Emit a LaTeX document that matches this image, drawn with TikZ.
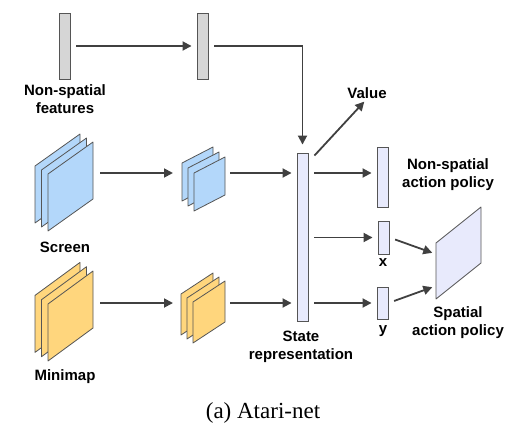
\documentclass[tikz,border=0pt]{standalone}
\usepackage{fontspec}
\setmainfont{Liberation Serif}
\newfontfamily\labelfont{Liberation Sans}
\usetikzlibrary{arrows.meta}
\definecolor{screenblue}{HTML}{B3D7FA}
\definecolor{minimaporange}{HTML}{FFD67D}
\definecolor{bargrey}{HTML}{D6D6D6}
\definecolor{statefill}{HTML}{E8EAFC}
\definecolor{edgegrey}{HTML}{555555}
\definecolor{arrowgrey}{HTML}{404040}

\begin{document}
\begin{tikzpicture}[x=1pt,y=-1pt,>={Triangle[length=9pt,width=9pt]},
  bar/.style={draw=edgegrey,line width=0.9pt,inner sep=0pt,minimum width=11pt},
  plane/.style={draw=edgegrey,line width=0.8pt,line join=round},
  flow/.style={->,draw=arrowgrey,line width=1.8pt,shorten <=6pt,shorten >=5pt},
  tag/.style={font=\labelfont\bfseries\fontsize{15}{18}\selectfont,align=center,inner sep=0pt},
  holder/.style={inner sep=0pt,outer sep=0pt,minimum height=10pt}]
  \useasboundingbox (0,0) rectangle (522,439);

  % feature bars
  \node[bar,fill=bargrey,minimum height=66pt] (nsf) at (64.5,46) {};
  \node[bar,fill=bargrey,minimum height=66pt] (nsfc) at (202.5,46) {};
  \node[bar,fill=statefill,minimum height=168pt] (state) at (302.5,237) {};
  \node[bar,fill=statefill,minimum height=60pt] (nsp) at (382.5,177) {};
  \node[bar,fill=statefill,minimum height=33pt] (xbar) at (383.5,237.5) {};
  \node[bar,fill=statefill,minimum height=32pt] (ybar) at (382.5,303) {};

  % stacks of feature planes
  \foreach \x/\y/\w/\h/\s/\dx/\dy/\c in {48/174/45/57/32/6.5/4/screenblue,
      194/173/31/38/16/6/5/screenblue,
      48/304/45/57/33/6.5/4.3/minimaporange,
      193/302/32/41/21/6/4/minimaporange} {
    \foreach \k in {2,1,0} {
      \draw[plane,fill=\c] ({\x-\k*\dx},{\y-\k*\dy}) -- ++(\w,-\s) -- ++(0,\h) -- ++(-\w,\s) -- cycle;
    }
  }
  \node[holder,minimum width=59pt] (screen) at (64.5,173) {};
  \node[holder,minimum width=46pt] (screenconv) at (201,173) {};
  \node[holder,minimum width=59pt] (minimap) at (64.5,303) {};
  \node[holder,minimum width=46pt] (minimapconv) at (201,303) {};

  \draw[plane,fill=statefill] (436,243) -- (481,207) -- (481,263) -- (436,299) -- cycle;
  \coordinate (spx) at (437,254.5);
  \coordinate (spy) at (437,285.5);

  \node[tag] (nsflabel) at (65,99) {Non-spatial\\features};
  \node[tag] (screenlabel) at (65,247) {Screen};
  \node[tag] (minimaplabel) at (65,377) {Minimap};
  \node[tag] (value) at (367,93) {Value};
  \node[tag] (nsplabel) at (448,174.5) {Non-spatial\\action policy};
  \node[tag] (xlabel) at (383,263) {x};
  \node[tag] (ylabel) at (383,331) {y};
  \node[tag] (splabel) at (458,323) {Spatial\\action policy};
  \node[tag] (statelabel) at (301,346.5) {State\\representation};
  \node[font=\fontsize{23}{27}\selectfont,inner sep=0pt] (caption) at (263,413) {(a) Atari-net};

  \draw[flow] (nsf) -- (nsfc);
  \draw[flow,shorten >=8pt] (nsfc.east) -| (state.north);
  \draw[flow] (screen) -- (screenconv);
  \draw[flow] (screenconv) -- (state.west |- screenconv);
  \draw[flow] (minimap) -- (minimapconv);
  \draw[flow] (minimapconv) -- (state.west |- minimapconv);
  \draw[flow,shorten <=0pt,shorten >=4pt] ([shift={(6,3)}]state.north east) -- (value.south);
  \draw[flow] (state.east |- 0,173) -- ([yshift=4pt]nsp.west);
  \draw[flow] (state.east |- xbar.west) -- (xbar.west);
  \draw[flow] (state.east |- ybar.west) -- (ybar.west);
  \draw[flow] (xbar.east) -- (spx);
  \draw[flow] (ybar.east) -- (spy);
\end{tikzpicture}
\end{document}
